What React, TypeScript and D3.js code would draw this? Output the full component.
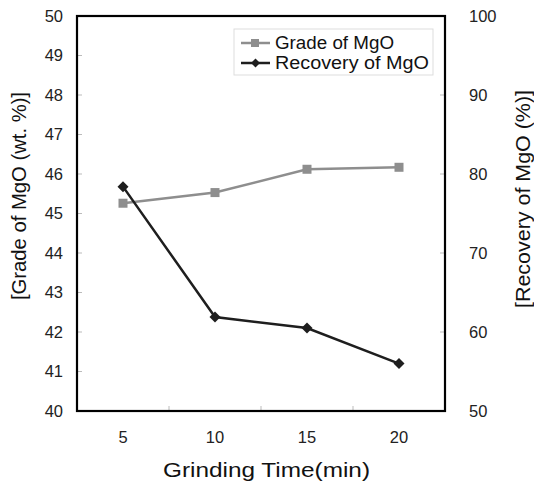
import React from "react";
import * as d3 from "d3";

const categories = ["5", "10", "15", "20"];
const gradeValues = [45.26, 45.53, 46.12, 46.17];
const recoveryValues = [78.4, 61.9, 60.5, 56.0];
const leftTicks = [40, 41, 42, 43, 44, 45, 46, 47, 48, 49, 50];
const rightTicks = [50, 60, 70, 80, 90, 100];
const seriesNames = ["Grade of MgO", "Recovery of MgO"];

const W = 534;
const H = 486;
const left = 77;
const right = 445;
const top = 16;
const bottom = 411;
const font = "'Liberation Sans', Arial, sans-serif";

const gradeColor = "#8e8e8e";
const recColor = "#1e1e1e";

export default function App() {
  const x = d3.scaleBand().domain(categories).range([left, right]);
  const yL = d3.scaleLinear().domain([40, 50]).range([bottom, top]);
  const yR = d3.scaleLinear().domain([50, 100]).range([bottom, top]);
  const cx = (c: string) => (x(c) ?? 0) + x.bandwidth() / 2;

  const gradeLine = d3
    .line<number>()
    .x((_, i) => cx(categories[i]))
    .y((d) => yL(d));
  const recLine = d3
    .line<number>()
    .x((_, i) => cx(categories[i]))
    .y((d) => yR(d));

  const diamond = (px: number, py: number, r: number) =>
    `M${px},${py - r}L${px + r},${py}L${px},${py + r}L${px - r},${py}Z`;

  return (
    <svg
      width={W}
      height={H}
      style={{ position: "absolute", left: 0, top: 0, background: "#fff" }}
      fontFamily={font}
    >
      {/* left ticks */}
      {leftTicks.map((t) => (
        <g key={"l" + t}>
          {t > 40 && t < 50 && (
            <line x1={left} x2={left + 5} y1={yL(t)} y2={yL(t)} stroke="#bbb" />
          )}
          <text x={63} y={yL(t)} dy="0.35em" textAnchor="end" fontSize={16.5} fill="#222">
            {t}
          </text>
        </g>
      ))}
      {/* right ticks */}
      {rightTicks.map((t) => (
        <g key={"r" + t}>
          {t > 50 && t < 100 && (
            <line x1={right - 5} x2={right} y1={yR(t)} y2={yR(t)} stroke="#bbb" />
          )}
          <text x={469} y={yR(t)} dy="0.35em" textAnchor="start" fontSize={16.5} fill="#222">
            {t}
          </text>
        </g>
      ))}
      {/* x ticks between categories */}
      {categories.slice(1).map((c) => (
        <line
          key={"xt" + c}
          x1={x(c)}
          x2={x(c)}
          y1={bottom}
          y2={bottom - 5}
          stroke="#bbb"
        />
      ))}
      {categories.map((c) => (
        <text key={"xl" + c} x={cx(c)} y={443} textAnchor="middle" fontSize={16.5} fill="#222">
          {c}
        </text>
      ))}

      {/* series */}
      <path d={gradeLine(gradeValues) ?? ""} fill="none" stroke={gradeColor} strokeWidth={2.5} />
      {gradeValues.map((v, i) => (
        <rect
          key={"g" + i}
          x={cx(categories[i]) - 4.5}
          y={yL(v) - 4.5}
          width={9}
          height={9}
          fill={gradeColor}
        />
      ))}
      <path d={recLine(recoveryValues) ?? ""} fill="none" stroke={recColor} strokeWidth={2.5} />
      {recoveryValues.map((v, i) => (
        <path key={"r" + i} d={diamond(cx(categories[i]), yR(v), 5.5)} fill={recColor} />
      ))}

      {/* frame */}
      <rect
        x={left}
        y={top}
        width={right - left}
        height={bottom - top}
        fill="none"
        stroke="#000"
        strokeWidth={2.2}
      />

      {/* legend */}
      <rect x={234} y={29} width={199} height={46} fill="#fff" stroke="#ddd" strokeWidth={1} />
      <line x1={241} x2={270} y1={43} y2={43} stroke={gradeColor} strokeWidth={2.5} />
      <rect x={251} y={39} width={8} height={8} fill={gradeColor} />
      <text
        x={275}
        y={43}
        dy="0.36em"
        fontSize={17.5}
        fill="#111"
        textLength={119}
        lengthAdjust="spacingAndGlyphs"
      >
        {seriesNames[0]}
      </text>
      <line x1={241} x2={270} y1={63} y2={63} stroke={recColor} strokeWidth={2.5} />
      <path d={diamond(255.5, 63, 4.5)} fill={recColor} />
      <text
        x={275}
        y={63}
        dy="0.36em"
        fontSize={17.5}
        fill="#111"
        textLength={154}
        lengthAdjust="spacingAndGlyphs"
      >
        {seriesNames[1]}
      </text>

      {/* axis titles */}
      <text
        x={163}
        y={477}
        fontSize={20}
        fill="#111"
        textLength={207}
        lengthAdjust="spacingAndGlyphs"
      >
        Grinding Time(min)
      </text>
      <text
        transform={`translate(26,196) rotate(-90)`}
        fontSize={20.5}
        fill="#111"
        x={-104}
        textLength={208}
        lengthAdjust="spacingAndGlyphs"
      >
        [Grade of MgO (wt. %)]
      </text>
      <text
        transform={`translate(530,199) rotate(-90)`}
        fontSize={20.5}
        fill="#111"
        x={-109}
        textLength={218}
        lengthAdjust="spacingAndGlyphs"
      >
        [Recovery of MgO (%)]
      </text>
    </svg>
  );
}
